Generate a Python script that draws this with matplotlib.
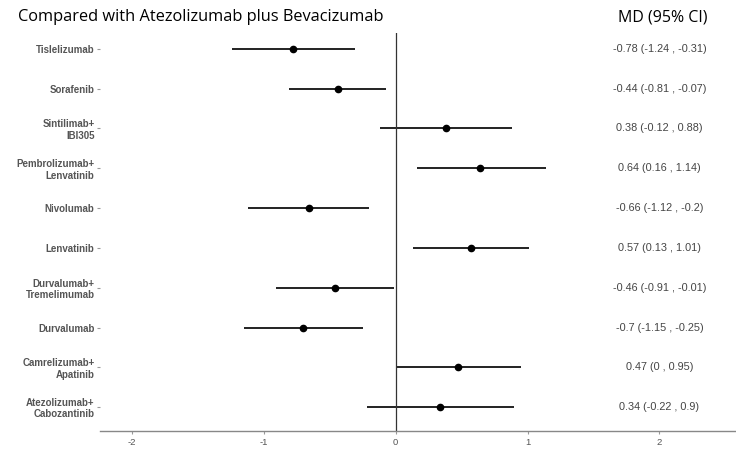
import numpy as np
import matplotlib.pyplot as plt

tratamientos = ['Tislelizumab', 'Sorafenib', 'Sintilimab+\nIBI305', 'Pembrolizumab+\nLenvatinib',
                'Nivolumab', 'Lenvatinib', 'Durvalumab+\nTremelimumab', 'Durvalumab',
                'Camrelizumab+\nApatinib', 'Atezolizumab+\nCabozantinib']
md = [-0.78, -0.44, 0.38, 0.64, -0.66, 0.57, -0.46, -0.7, 0.47, 0.34]
inf = [-1.24, -0.81, -0.12, 0.16, -1.12, 0.13, -0.91, -1.15, 0, -0.22]
sup = [-0.31, -0.07, 0.88, 1.14, -0.2, 1.01, -0.01, -0.25, 0.95, 0.9]
etiquetas = ['-0.78 (-1.24 , -0.31)', '-0.44 (-0.81 , -0.07)', '0.38 (-0.12 , 0.88)',
             '0.64 (0.16 , 1.14)', '-0.66 (-1.12 , -0.2)', '0.57 (0.13 , 1.01)',
             '-0.46 (-0.91 , -0.01)', '-0.7 (-1.15 , -0.25)', '0.47 (0 , 0.95)',
             '0.34 (-0.22 , 0.9)']

n = len(tratamientos)
y = np.arange(n)[::-1]

fig = plt.figure(figsize=(7.36, 4.51), dpi=100)
ax = fig.add_axes([0.136, 0.044, 0.864, 0.883])

ax.hlines(y, inf, sup, color='#222222', lw=1.4)
ax.plot(md, y, 'o', color='black', ms=4.5)
ax.axvline(0, color='#333333', lw=0.9)

for yi, t in zip(y, etiquetas):
    ax.text(2, yi, t, ha='center', va='center', fontsize=7.8, color='#444444',
            family='Liberation Sans')

ax.set_xlim(-2.24, 2.58)
ax.set_ylim(-0.6, 9.4)
ax.set_xticks([-2, -1, 0, 1, 2])
ax.set_xticklabels(['-2', '-1', '0', '1', '2'], fontsize=6.8, color='#555555',
                   family='Liberation Sans')
ax.set_yticks(y)
ax.set_yticklabels(tratamientos, fontsize=7, color='#555555', fontweight='bold',
                   family='Liberation Sans', linespacing=1.15)
ax.tick_params(axis='y', length=2, color='#999999', pad=2)
ax.tick_params(axis='x', length=2, color='#999999', pad=3)
for s in ['top', 'right', 'left']:
    ax.spines[s].set_visible(False)
ax.spines['bottom'].set_color('#888888')
ax.spines['bottom'].set_linewidth(1.0)

fig.text(0.024, 0.962, 'Compared with Atezolizumab plus Bevacizumab', fontsize=11.8,
         family='Open Sans', va='center', ha='left')
fig.text(0.9, 0.962, 'MD (95% CI)', fontsize=11.5, family='Open Sans', va='center', ha='center')

plt.savefig('out.png', dpi=100)
